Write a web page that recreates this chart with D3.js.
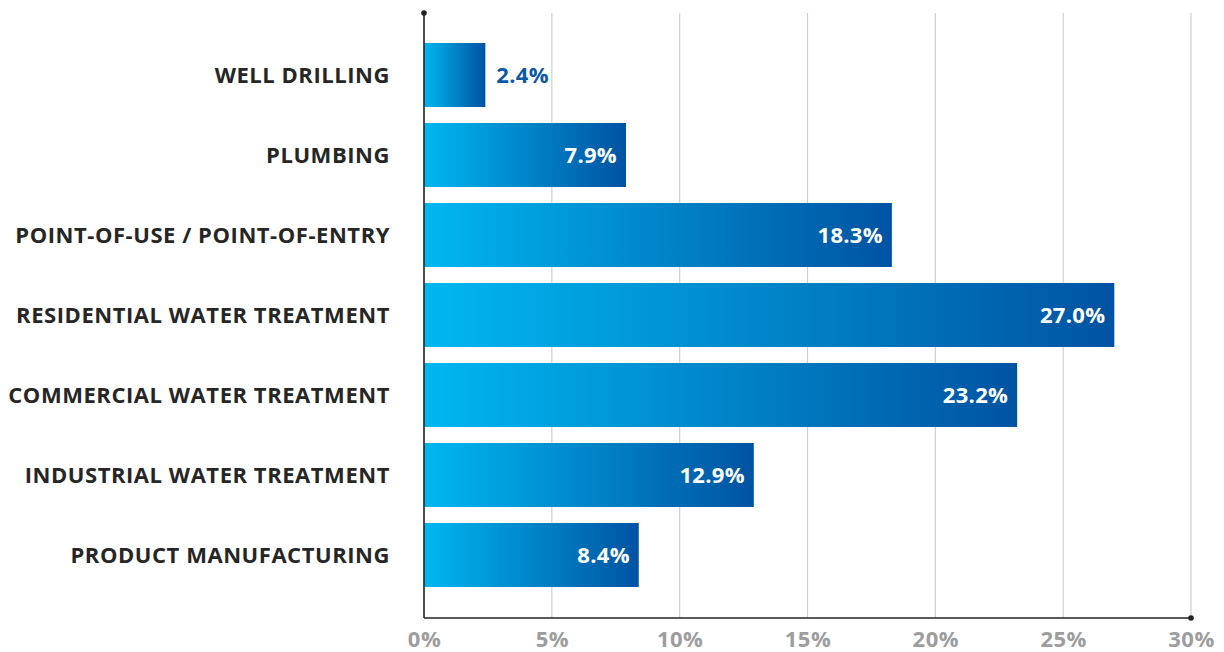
<!DOCTYPE html>
<html>
<head>
<meta charset="utf-8">
<script src="https://cdn.jsdelivr.net/npm/d3@7"></script>
<style>
  html, body { margin: 0; padding: 0; background: #fff; }
  svg { display: block; }
  text { font-family: "Open Sans", "Noto Sans", sans-serif; font-weight: 700; }
</style>
</head>
<body>
<svg id="chart" width="1224" height="652"></svg>
<script>
const categories = [
  "WELL DRILLING",
  "PLUMBING",
  "POINT-OF-USE / POINT-OF-ENTRY",
  "RESIDENTIAL WATER TREATMENT",
  "COMMERCIAL WATER TREATMENT",
  "INDUSTRIAL WATER TREATMENT",
  "PRODUCT MANUFACTURING"
];
const shares = [2.4, 7.9, 18.3, 27.0, 23.2, 12.9, 8.4];
const tickValues = [0, 5, 10, 15, 20, 25, 30];

const svg = d3.select("#chart");
const plotLeft = 424, plotRight = 1191, plotTop = 13, axisY = 618;

const x = d3.scaleLinear().domain([0, 30]).range([plotLeft, plotRight]);
const y = d3.scaleBand().domain(categories).range([35, 595]).paddingInner(0.2).paddingOuter(0.1);

// bar fill: light cyan to deep blue across each bar
const defs = svg.append("defs");
const grad = defs.append("linearGradient").attr("id", "barFill")
  .attr("x1", "0%").attr("x2", "100%").attr("y1", "0%").attr("y2", "0%");
grad.append("stop").attr("offset", "0%").attr("stop-color", "#00b7f0");
grad.append("stop").attr("offset", "100%").attr("stop-color", "#0053a2");

// vertical gridlines
svg.append("g").selectAll("line")
  .data(tickValues.slice(1))
  .join("line")
  .attr("x1", d => x(d)).attr("x2", d => x(d))
  .attr("y1", plotTop).attr("y2", axisY)
  .attr("stroke", "#cfcfcf").attr("stroke-width", 1.2);

// bars
svg.append("g").selectAll("rect")
  .data(categories)
  .join("rect")
  .attr("x", x(0))
  .attr("y", d => y(d))
  .attr("width", (d, i) => x(shares[i]) - x(0))
  .attr("height", y.bandwidth())
  .attr("fill", "url(#barFill)");

// axis lines with end dots
svg.append("line").attr("x1", plotLeft).attr("x2", plotLeft).attr("y1", plotTop).attr("y2", axisY)
  .attr("stroke", "#222").attr("stroke-width", 1.6);
svg.append("line").attr("x1", plotLeft).attr("x2", plotRight).attr("y1", axisY).attr("y2", axisY)
  .attr("stroke", "#222").attr("stroke-width", 1.6);
svg.append("circle").attr("cx", plotLeft).attr("cy", plotTop).attr("r", 2.8).attr("fill", "#222");
svg.append("circle").attr("cx", plotRight).attr("cy", axisY).attr("r", 2.8).attr("fill", "#222");

// x tick labels
const xAxis = d3.axisBottom(x).tickValues(tickValues).tickFormat(d => d + "%").tickSize(0).tickPadding(0);
const gx = svg.append("g").attr("transform", `translate(0,${axisY})`).call(xAxis);
gx.select(".domain").remove();
gx.selectAll("text")
  .attr("y", 29)
  .attr("dy", 0)
  .attr("font-size", 22)
  .attr("fill", "#9d9d9d")
  .style("letter-spacing", "0.5px")
  .style("font-family", '"Open Sans", sans-serif')
  .style("font-weight", 700);

// category labels
const yAxis = d3.axisLeft(y).tickSize(0).tickPadding(0);
const gy = svg.append("g").attr("transform", `translate(390,0)`).call(yAxis);
gy.select(".domain").remove();
gy.selectAll("text")
  .attr("x", 0)
  .attr("dy", "0.35em")
  .attr("font-size", 22)
  .attr("fill", "#262626")
  .style("letter-spacing", "0.55px")
  .style("font-family", '"Open Sans", sans-serif')
  .style("font-weight", 700);

// value labels
svg.append("g").selectAll("text")
  .data(categories)
  .join("text")
  .each(function(d, i) {
    const v = shares[i];
    const inside = x(v) - x(0) > 80;
    d3.select(this)
      .attr("x", inside ? x(v) - 9 : x(v) + 11)
      .attr("text-anchor", inside ? "end" : "start")
      .attr("fill", inside ? "#ffffff" : "#0c57a6");
  })
  .attr("y", d => y(d) + y.bandwidth() / 2)
  .attr("dy", "0.36em")
  .attr("font-size", 22)
  .style("letter-spacing", "0.3px")
  .text((d, i) => shares[i].toFixed(1) + "%");
</script>
</body>
</html>
